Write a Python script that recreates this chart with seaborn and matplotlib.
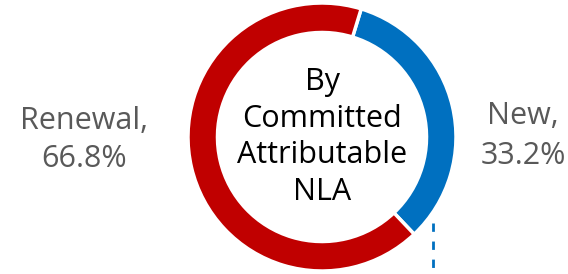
import matplotlib
matplotlib.use("Agg")
import matplotlib.pyplot as plt
import seaborn as sns
import numpy as np

# data
labels = ["New", "Renewal"]
shares = [33.2, 66.8]
colors = ["#0070C0", "#C00000"]
center_title = "By\nCommitted\nAttributable\nNLA"

sns.set_theme(style="white")
plt.rcParams["font.family"] = ["Open Sans", "DejaVu Sans"]

fig = plt.figure(figsize=(5.68, 2.74), dpi=100)
ax = fig.add_axes([188 / 568, 3 / 274, 268 / 568, 268 / 274])

wedges, _ = ax.pie(shares, colors=colors, startangle=73, counterclock=False,
                   radius=1.0,
                   wedgeprops=dict(width=0.22, edgecolor="white", linewidth=2.5))
ax.set_xlim(-1, 1)
ax.set_ylim(-1, 1)
ax.set_aspect("equal")
ax.axis("off")

ax.text(0, 0.0, center_title, ha="center", va="center", fontsize=22,
        color="black", linespacing=1.3)

# outer labels
fig.text(84 / 568, 1 - 140 / 274, f"{labels[1]},\n{shares[1]:.1f}%", ha="center",
         va="center", fontsize=22, color="#595959", linespacing=1.38)
fig.text(523 / 568, 1 - 136 / 274, f"{labels[0]},\n{shares[0]:.1f}%", ha="center",
         va="center", fontsize=22, color="#595959", linespacing=1.42)

# leftover leader line below the New wedge
ax.plot([0.83, 0.83], [-0.64, -1.0], color=colors[0], lw=2, ls=(0, (3, 3.5)),
        clip_on=False)

fig.savefig("out.png", dpi=100)
